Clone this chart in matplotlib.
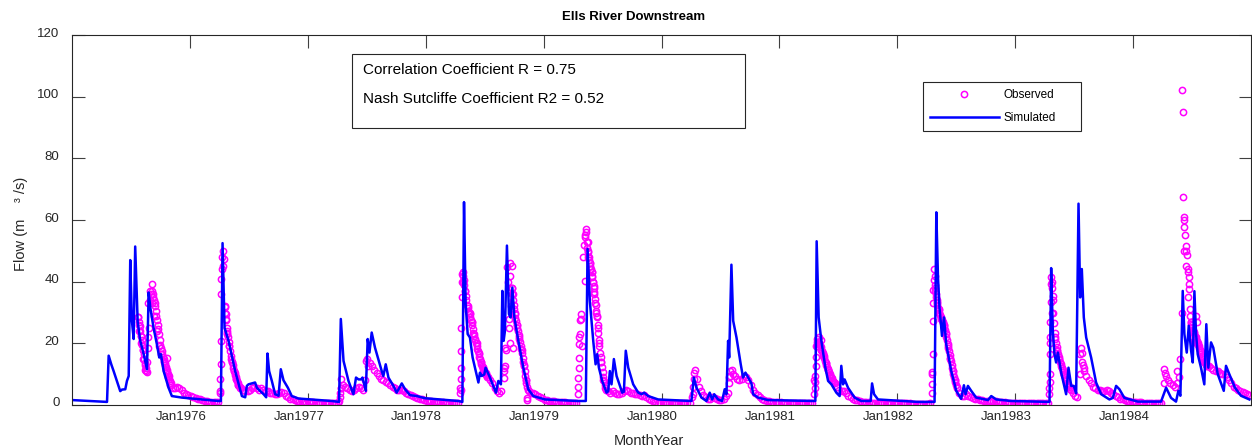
import numpy as np
import matplotlib
matplotlib.use('Agg')
import matplotlib.pyplot as plt
from matplotlib.patches import Rectangle
from matplotlib.transforms import ScaledTranslation

plt.rcParams['font.family'] = ['Liberation Sans', 'DejaVu Sans']

# simulated flow, vertices of the model line (decimal year, m3/s)
sim_t = [1975.000, 1975.297, 1975.311, 1975.333, 1975.353, 1975.409, 1975.424, 1975.452, 1975.466, 1975.481,
         1975.494, 1975.508, 1975.523, 1975.536, 1975.557, 1975.579, 1975.608, 1975.636, 1975.650, 1975.664,
         1975.692, 1975.720, 1975.740, 1975.754, 1975.777, 1975.819, 1975.847, 1975.932,
         1976.243, 1976.263, 1976.277, 1976.294, 1976.328, 1976.384, 1976.441, 1976.469, 1976.483, 1976.497,
         1976.553, 1976.568, 1976.625, 1976.647, 1976.658, 1976.672, 1976.695, 1976.723, 1976.752, 1976.771,
         1976.794, 1976.831, 1976.864, 1976.921,
         1977.203, 1977.265, 1977.280, 1977.303, 1977.345, 1977.387, 1977.409, 1977.430, 1977.452, 1977.464,
         1977.492, 1977.508, 1977.523, 1977.542, 1977.570, 1977.627, 1977.641, 1977.661, 1977.684, 1977.726,
         1977.754, 1977.797, 1977.825, 1977.867, 1977.924, 1977.994,
         1978.277, 1978.311, 1978.325, 1978.339, 1978.356, 1978.375, 1978.398, 1978.418, 1978.447, 1978.460,
         1978.475, 1978.497, 1978.508, 1978.545, 1978.596, 1978.616, 1978.638, 1978.650, 1978.661, 1978.672,
         1978.689, 1978.706, 1978.720, 1978.735, 1978.752, 1978.786, 1978.828, 1978.870, 1978.913,
         1979.011, 1979.294, 1979.358, 1979.373, 1979.392, 1979.421, 1979.441, 1979.455, 1979.469, 1979.497,
         1979.534, 1979.548, 1979.562, 1979.576, 1979.596, 1979.619, 1979.667, 1979.681, 1979.697, 1979.718,
         1979.760, 1979.803, 1979.831, 1979.853, 1979.887, 1979.972,
         1980.254, 1980.274, 1980.297, 1980.339, 1980.381, 1980.409, 1980.430, 1980.447, 1980.480, 1980.514,
         1980.536, 1980.551, 1980.565, 1980.574, 1980.593, 1980.608, 1980.636, 1980.672, 1980.692, 1980.712,
         1980.735, 1980.763, 1980.777, 1980.819, 1980.904,
         1981.285, 1981.305, 1981.316, 1981.333, 1981.356, 1981.390, 1981.413, 1981.441, 1981.483, 1981.511,
         1981.525, 1981.540, 1981.553, 1981.582, 1981.638, 1981.695, 1981.774, 1981.786, 1981.803, 1981.836,
         1982.175, 1982.316, 1982.331, 1982.345, 1982.358, 1982.379, 1982.396, 1982.415, 1982.458, 1982.500,
         1982.542, 1982.565, 1982.579, 1982.599, 1982.627, 1982.669, 1982.769, 1982.797, 1982.839, 1982.966,
         1983.291, 1983.305, 1983.319, 1983.333, 1983.347, 1983.362, 1983.390, 1983.432, 1983.452, 1983.475,
         1983.497, 1983.517, 1983.537, 1983.551, 1983.565, 1983.582, 1983.602, 1983.644, 1983.686, 1983.729,
         1983.799, 1983.828, 1983.856, 1983.884, 1983.926,
         1984.040, 1984.237, 1984.280, 1984.322, 1984.364, 1984.384, 1984.401, 1984.421, 1984.435, 1984.455,
         1984.472, 1984.492, 1984.506, 1984.520, 1984.534, 1984.548, 1984.576, 1984.604, 1984.621, 1984.638,
         1984.661, 1984.680, 1984.718, 1984.769, 1984.788, 1984.816, 1984.864, 1984.915, 1984.986]
sim_q = [1.6, 1.0, 16, 13.2, 11, 4.5, 5, 5.1, 7.8, 9.4,
         47, 27.3, 21.4, 51.4, 27, 20.8, 16.5, 11.6, 36.5, 31.6,
         25, 19.7, 15.4, 16.5, 11, 5.6, 2.9, 2.4,
         1.3, 1.3, 52.5, 25, 20.8, 11, 2.9, 2.5, 6.2, 6.7,
         7.3, 5.6, 3.5, 2.5, 16.7, 11, 7.8, 3.5, 3, 11.6,
         8, 5.6, 2.9, 2.1,
         1.3, 1.0, 27.9, 14.3, 7.8, 3.5, 8.9, 8.3, 8.3, 8.9,
         4.6, 21.4, 17, 23.5, 18.6, 11, 9.4, 13.2, 8.9, 6.2,
         4, 7, 5.1, 3.2, 2.9, 2.2,
         1.3, 1.0, 65.8, 32.7, 23, 21.9, 15.4, 12.1, 7.3, 10.5,
         9.4, 9.9, 12.1, 8.9, 4, 7.8, 6.7, 37, 20.8, 24,
         51.7, 29.5, 28.4, 38.1, 28.4, 20.8, 12.1, 5.1, 2.9,
         1.8, 1.3, 1.3, 50.6, 33.8, 20.8, 13.2, 16.5, 12.1, 7.8,
         4, 4.5, 11, 6.7, 14.9, 9.4, 4, 4.3, 17.6, 12.1,
         6.7, 4, 3.5, 4, 2.9, 1.8,
         1.3, 8.9, 5.6, 2.4, 1.3, 4, 1.8, 3.5, 1.8, 1.3,
         5.1, 3.5, 20.8, 15.4, 45.5, 27.3, 21.9, 13.2, 8.9, 10.5,
         8.9, 7, 3.5, 2.4, 1.6,
         1.3, 1.3, 53.1, 28.4, 20.8, 12.1, 7.8, 6.7, 4, 2.9,
         12.7, 6.7, 8.3, 5.6, 2.4, 1.3, 1.3, 7, 3.5, 1.8,
         1.0, 1.0, 62.5, 41.4, 31.6, 22.4, 28.4, 19.7, 11, 4.6,
         2, 6.4, 3.5, 6.2, 4.6, 2.4, 1.6, 2.9, 1.8, 1.3,
         1.0, 44.4, 24, 16.5, 13.8, 17, 10.5, 3.5, 12.1, 6.2,
         6.2, 3.8, 65.3, 34.9, 44.1, 28.4, 21.9, 15.4, 7.3, 3.5,
         1.8, 2.3, 6.2, 5.1, 2.3,
         1.1, 1.1, 5.6, 2.3, 1.1, 4.6, 3, 37, 23, 17,
         25.7, 17.6, 13.8, 36.9, 23, 16.5, 12.1, 6.7, 26.2, 12.1,
         20.3, 18.6, 10, 4.6, 12.7, 10, 5.6, 3, 1.8]

# observed flow, weekly values per year (week 0 = first week of January)
obs_1975 = [np.nan] * 29 + [26, 20, 15, 11.5, 33, 37, 33, 29, 24, 19, 16.5, 14, 11.5, 9, 6.5, 5.5, 5.5, 5.8,
                            5.5, 4.8, 4.0, 3.6, 3.2]
obs_1976 = [2.8, 2.5, 2.2, 2.0, 1.8, 1.6, 1.4, 1.3, 1.1, 1.0, 0.9, 0.9, 1.0, 4.0, 45, 30, 24, 19, 14, 11,
            8.5, 6.5, 5.5, 5.0, 4.5, 4.5, 5.0, 5.5, 6.0, 5.5, 5.0, 5.5, 5.0, 4.5, 4.5, 4.0, 3.8, 3.6, 3.5, 4.0,
            4.2, 3.8, 3.0, 2.5, 2.0, 1.8, 1.5, 1.3, 1.2, 1.0, 0.9, 0.8]
obs_1977 = [0.9, 0.9, 0.9, 0.8, 0.8, 0.8, 0.7, 0.7, 0.7, 0.6, 0.6, 0.5, 0.5, 0.8, 5.5, 6.5, 6.0, 5.5, 5.0, 4.5,
            5.0, 5.5, 6.0, 5.5, 5.0, 8.0, 12.5, 13.5, 12.5, 11.5, 10.5, 9.5, 8.5, 8.0, 7.5, 7.0, 6.5, 6.0, 5.5, 5.0,
            4.8, 5.0, 4.5, 4.0, 3.5, 3.2, 3.0, 2.6, 2.3, 2.0, 1.8, 1.6]
obs_1978 = [1.4, 1.3, 1.2, 1.1, 1.0, 1.0, 0.9, 0.9, 0.8, 0.8, 0.7, 0.7, 0.7, 0.6, 0.8, 5, 40, 37, 32, 30,
            27, 23, 20, 17, 14, 12, 10.5, 9, 8, 7, 5.5, 4.5, 4.0, 4.5, 12, 18, 40, 42, 36, 30,
            26, 22, 18, 13, 8, 4.5, 4.0, 3.8, 3.5, 3.0, 2.6, 2.3]
obs_1979 = [1.6, 1.5, 1.4, 1.3, 1.2, 1.1, 1.0, 1.0, 0.9, 0.9, 0.8, 0.8, 0.7, 0.7, 0.7, 22, 28, 48, 55, 50,
            46, 42, 36, 29, 20, 14, 8, 5, 4.5, 4, 4.5, 4, 3.5, 3.5, 4, 4.5, 5, 4.5, 4, 3.8,
            3.5, 3.5, 3.2, 3.0, 3.2, 2.5, 2.0, 1.5, 1.2, 1.0, 0.8, 0.7]
obs_1980 = [0.7, 0.7, 0.7, 0.7, 0.6, 0.6, 0.6, 0.6, 0.5, 0.5, 0.5, 0.5, 0.6, 2.5, 10.5, 8.5, 6, 4.5, 3.2, 2.5,
            2.0, 2.0, 2.5, 2.2, 1.8, 1.6, 1.5, 2.0, 2.8, 4.0, 9.5, 10, 9.5, 8.5, 8.0, 8.5, 9.5, 9.0, 8.0, 6.5,
            5.0, 4.0, 3.2, 2.5, 2.0, 1.6, 1.4, 1.2, 1.1, 1.0, 0.9, 0.9]
obs_1981 = [0.9, 0.8, 0.8, 0.8, 0.8, 0.7, 0.7, 0.7, 0.7, 0.7, 0.6, 0.6, 0.6, 0.6, 0.7, 8, 19, 20, 18, 16,
            13.5, 11.5, 9.5, 8.0, 7.0, 6.0, 5.0, 4.5, 4.5, 3.8, 3.0, 2.5, 2.0, 1.7, 1.5, 1.3, 1.1, 1.0, 0.9, 0.9,
            0.8, 0.8, 0.8, 0.7, 0.7, 0.7, 0.6, 0.6, 0.6, 0.5, 0.5, 0.5]
obs_1982 = [0.5, 0.5, 0.5, 0.5, 0.5, 0.5, 0.4, 0.4, 0.4, 0.4, 0.4, 0.4, 0.4, 0.4, 0.5, 10, 38, 33, 30, 28,
            26, 23, 19, 15, 11, 8, 5.5, 4.0, 3.0, 3.0, 3.5, 3.0, 2.5, 2.2, 2.0, 1.8, 1.6, 1.5, 1.4, 1.3,
            1.3, 1.4, 1.3, 1.2, 1.1, 1.0, 0.9, 0.9, 0.8, 0.8, 0.8, 0.7]
obs_1983 = [0.7, 0.7, 0.7, 0.7, 0.7, 0.7, 0.7, 0.7, 0.7, 0.7, 0.7, 0.7, 0.7, 0.7, 0.8, 20, 30, 22, 18, 15,
            12, 10, 8, 6.5, 5.0, 4.0, 3.0, 2.5, 10, 14, 12, 9.5, 8, 7, 6, 5.5, 5, 4.8, 4.5, 4.5,
            4.8, 4.5, 4.0, 3.5, 3.0, 2.5, 2.0, 1.8, 1.5, 1.3, 1.2, 1.1]
obs_1984 = [1.0, 1.0, 0.9, 0.9, 0.8, 0.8, 0.8, 0.7, 0.7, 0.7, 0.7, 0.7, 0.8, 7, 9.5, 8, 7, 6.5, 6, 7,
            9, 30, 50, 45, 35, 27, 24, 22, 20, 18, 16, 14, 13, 12.5, 12, 11.5, 11, 11, 10.5, 10,
            10, 9, 8, 7, 6, 5.5, 5, 4.5, 4.2, 3.8, 3.5, 3.2]

# observed every second day on the steep recessions after the freshets
rec_1975a = [28.5, 27, 25.5, 24, 22.5, 21, 19.5, 18, 16.5, 15, 13.5, 12, 11]
rec_1975b = [37, 36, 35, 34, 33, 32, 30.5, 29, 27.5, 26, 24.5, 23, 21, 19.5, 18.5, 17.5, 16.5, 15.5, 15, 14.3,
             13.6, 13, 12.3, 11.5, 10.8, 10, 9.3, 8.5, 7.8, 7.2, 6.6]
rec_1976 = [32, 29.5, 27.5, 25, 23, 22, 20.5, 19, 17.5, 16, 15, 14, 13, 12, 11, 10.3, 9.6, 9, 8.3, 7.7,
            7.1, 6.6, 6.2, 5.9, 5.6]
rec_1978a = [42, 40.5, 39, 37, 35.5, 34, 32.5, 31.5, 30.5, 30, 29.5, 28.5, 27.5, 27, 26, 24.5, 23.5, 22.5, 21.5,
             21, 20, 19, 18.3, 17.5, 16.5, 15.5, 14.8, 14, 13.4, 12.8, 12.2, 11.8, 11.3, 10.9, 10.5, 10, 9.6, 9.2]
rec_1978b = [38, 36, 34, 32.5, 31, 29.5, 28.3, 27.2, 26, 25, 24, 22.8, 21.5, 20.3, 19.2, 18.2, 16.8, 15.3, 14,
             12.6, 11, 9.5, 8.2, 7, 5.8, 4.8]
rec_1979 = [53, 51, 49.5, 48, 47, 46, 45, 44, 43, 41.5, 40, 38.5, 36.5, 34.5, 32.5, 30.5, 28.5, 26, 23.5, 21,
            19, 17, 15.5, 14, 12.3, 10.8, 9.2, 7.8, 6.5, 5.5]
rec_1981 = [20.5, 20.5, 20, 19.8, 19.3, 18.7, 18, 17.5, 17, 16.4, 15.8, 15.1, 14.3, 13.5, 13, 12.3, 11.8, 11.2,
            10.7, 10.1, 9.6, 9.1, 8.6, 8.2, 7.9, 7.5]
rec_1982 = [39, 37, 35, 33.5, 32.5, 31.5, 30.7, 30, 29.3, 28.7, 28.1, 27.6, 27, 26.5, 26, 25.2, 24.2, 23.2, 22.2,
            21, 19.8, 18.6, 17.5, 16.3, 15.3, 14.2, 13.1, 12, 11, 10, 9, 8.2, 7.4, 6.6, 6]
rec_1983 = [38, 34, 30, 26.5, 23.5, 21.5, 20, 18.7, 17.6, 16.6, 15.7, 14.9, 14.1, 13.4, 12.7, 12, 11.4, 10.8,
            10.2, 9.6, 9, 8.4, 7.8, 7.2, 6.7, 6.2, 5.7, 5.2]
rec_1984 = [27, 26, 25.2, 24.4, 23.7, 23.2, 22.5, 22, 21.4, 20.8, 20.2, 19.6, 19, 18.4, 17.8, 17.2, 16.6, 16,
            15.5, 14.9, 14.4, 13.9, 13.5, 13.1, 12.8, 12.5]
rec_start = [1975.5636, 1975.6780, 1976.2966, 1978.3178, 1978.7288, 1979.3644, 1981.3220, 1982.3178,
             1983.3136, 1984.4915]

# observed daily values on the rising limbs and peaks
obs_peak_t = [1975.564, 1975.572, 1975.585, 1975.602, 1975.623, 1975.636, 1975.640, 1975.644, 1975.648,
              1975.653, 1975.661, 1975.669, 1975.678, 1975.805,
              1976.257, 1976.259, 1976.261, 1976.263, 1976.265, 1976.268, 1976.271, 1976.275, 1976.280,
              1976.288, 1976.297, 1976.305, 1976.314,
              1977.267, 1977.271, 1977.275, 1977.280, 1977.284, 1977.492, 1977.504,
              1978.292, 1978.295, 1978.297, 1978.298, 1978.301, 1978.303, 1978.307, 1978.309, 1978.312,
              1978.315, 1978.661, 1978.665, 1978.669, 1978.674, 1978.686, 1978.703, 1978.708, 1978.712,
              1978.716, 1978.720, 1978.729, 1978.733, 1978.737, 1978.856, 1978.860,
              1979.288, 1979.290, 1979.293, 1979.297, 1979.299, 1979.302, 1979.305, 1979.309, 1979.314,
              1979.322, 1979.339, 1979.347, 1979.350, 1979.356, 1979.362, 1979.373, 1979.381, 1979.394,
              1979.407, 1979.415, 1979.424, 1979.436, 1979.445, 1979.458,
              1980.267, 1980.271, 1980.275, 1980.288, 1980.572, 1980.576, 1980.581, 1980.602,
              1981.297, 1981.299, 1981.302, 1981.305, 1981.308, 1981.310, 1981.314, 1981.322, 1981.339,
              1981.356,
              1982.292, 1982.295, 1982.297, 1982.299, 1982.302, 1982.304, 1982.307, 1982.309, 1982.312,
              1982.318, 1982.331, 1982.339, 1982.352,
              1983.288, 1983.290, 1983.292, 1983.293, 1983.295, 1983.297, 1983.298, 1983.300, 1983.303,
              1983.305, 1983.314, 1983.322, 1983.551, 1983.559, 1983.568, 1983.576, 1983.585,
              1984.258, 1984.267, 1984.373, 1984.398, 1984.415, 1984.421, 1984.426, 1984.428, 1984.432,
              1984.435, 1984.441, 1984.445, 1984.449, 1984.458, 1984.463, 1984.466, 1984.472, 1984.475,
              1984.477, 1984.480, 1984.483, 1984.492, 1984.500, 1984.508, 1984.517, 1984.530, 1984.542]
obs_peak_q = [28.5, 24.0, 22.5, 18.0, 13.0, 10.8, 13.8, 18.5, 22.0,
              25.0, 34.0, 36.0, 39.2, 15.4,
              4.6, 8.3, 13.4, 20.8, 36.0, 41.0, 44.0, 48.0, 50.0,
              47.5, 31.9, 27.9, 23.2,
              1.2, 2.5, 4.0, 5.5, 8.5, 14.3, 15.0,
              3.8, 5.5, 8.4, 12.1, 17.6, 25.0, 35.0, 39.8, 42.5,
              43.0, 8.8, 11.0, 12.7, 18.5, 44.6, 28.0, 25.0, 46.0,
              20.0, 32.0, 45.0, 38.0, 18.6, 1.5, 2.2,
              3.5, 6.0, 8.9, 12.0, 15.4, 19.7, 23.0, 27.5, 29.5,
              19.0, 52.0, 54.5, 40.3, 56.0, 57.1, 53.0, 48.0, 44.0,
              43.0, 40.0, 38.0, 33.0, 30.0, 25.0,
              3.5, 6.0, 8.5, 11.3, 7.0, 9.0, 11.0, 11.5,
              3.5, 5.5, 7.3, 9.3, 12.5, 15.5, 19.0, 21.4, 22.0,
              21.0,
              3.8, 6.9, 10.7, 16.7, 27.1, 33.0, 37.4, 40.7, 44.2,
              42.0, 36.0, 34.0, 31.0,
              3.5, 5.5, 7.3, 9.9, 16.7, 22.0, 27.0, 33.4, 39.3,
              41.4, 40.0, 35.4, 16.5, 18.6, 17.0, 13.0, 11.0,
              11.6, 10.5, 10.9, 14.8, 102.1, 95.0, 67.4, 60.9, 60.0,
              57.7, 55.0, 51.7, 50.0, 48.5, 44.1, 43.0, 41.4, 39.2,
              37.6, 31.1, 28.9, 26.2, 24.0, 21.9, 20.5, 29.0, 27.0]

years = [1975, 1976, 1977, 1978, 1979, 1980, 1981, 1982, 1983, 1984]
weekly = [obs_1975, obs_1976, obs_1977, obs_1978, obs_1979, obs_1980, obs_1981, obs_1982, obs_1983, obs_1984]
recess = [rec_1975a, rec_1975b, rec_1976, rec_1978a, rec_1978b, rec_1979, rec_1981, rec_1982, rec_1983, rec_1984]

obs_t = []
obs_q = []
for yr, vals in zip(years, weekly):
    wk = np.arange(len(vals))
    obs_t.extend(yr + (7 * wk + 3.5) / 365.25)
    obs_q.extend(vals)
for t0, vals in zip(rec_start, recess):
    day = 2 * np.arange(len(vals))
    obs_t.extend(t0 + day / 365.25)
    obs_q.extend(vals)
obs_t = np.concatenate([obs_t, obs_peak_t])
obs_q = np.concatenate([obs_q, obs_peak_q])

fig = plt.figure(figsize=(12.52, 4.48), dpi=100)
ax = fig.add_axes([72 / 1252, 1 - 405 / 448, 1179 / 1252, 370 / 448])

ax.plot(obs_t, obs_q, 'o', mfc='none', mec=(1, 0, 1), ms=4.5, mew=1.1, label='Observed')
ax.plot(sim_t, sim_q, '-', color=(0, 0, 1), lw=1.8, label='Simulated')

ax.set_xlim(1975, 1985)
ax.set_ylim(0, 120)
ax.set_xticks(range(1976, 1985))
ax.set_xticklabels(['Jan%d' % y for y in range(1976, 1985)])
ax.set_yticks(range(0, 121, 20))

for s in ax.spines.values():
    s.set_color('#262626')
    s.set_linewidth(0.8)
ax.tick_params(direction='in', length=9, width=0.8, top=True, right=True,
               color='#404040', labelcolor='#262626', labelsize=9.5)
ax.tick_params(axis='y', pad=9)
ax.tick_params(axis='x', pad=4)
for lab in ax.get_xticklabels():
    lab.set_transform(lab.get_transform() + ScaledTranslation(-0.09, 0, fig.dpi_scale_trans))
for lab in ax.get_yticklabels():
    lab.set_transform(lab.get_transform() + ScaledTranslation(0, 0.03, fig.dpi_scale_trans))

ax.set_title('Ells River Downstream', fontsize=9.5, fontweight='bold', x=0.476, pad=11)
ax.set_xlabel('MonthYear', fontsize=10.5, color='#262626')
ax.xaxis.set_label_coords(0.489, -0.078)
ax.set_ylabel('Flow (m    ³ /s)', fontsize=10.5, color='#262626')
ax.yaxis.set_label_coords(-0.037, 0.49)

leg = ax.legend(loc='upper left', bbox_to_anchor=(923 / 1252, 1 - 134 / 448, 158 / 1252, 52 / 448),
                bbox_transform=fig.transFigure, mode='expand', fancybox=False, framealpha=1,
                edgecolor='#262626', fontsize=8.5, numpoints=1, handlelength=5.8,
                handletextpad=0.4, labelspacing=0.9, borderpad=0.6, borderaxespad=0)
leg.get_frame().set_linewidth(0.8)

box = Rectangle((352 / 1252, 1 - 128 / 448), 393 / 1252, 74 / 448, transform=fig.transFigure,
                facecolor='white', edgecolor='#262626', lw=0.8)
fig.add_artist(box)
fig.text(363 / 1252, 1 - 70 / 448, 'Correlation Coefficient R = 0.75', fontsize=11, va='center')
fig.text(363 / 1252, 1 - 99 / 448, 'Nash Sutcliffe Coefficient R2 = 0.52', fontsize=11, va='center')

fig.savefig('out.png', dpi=100)
